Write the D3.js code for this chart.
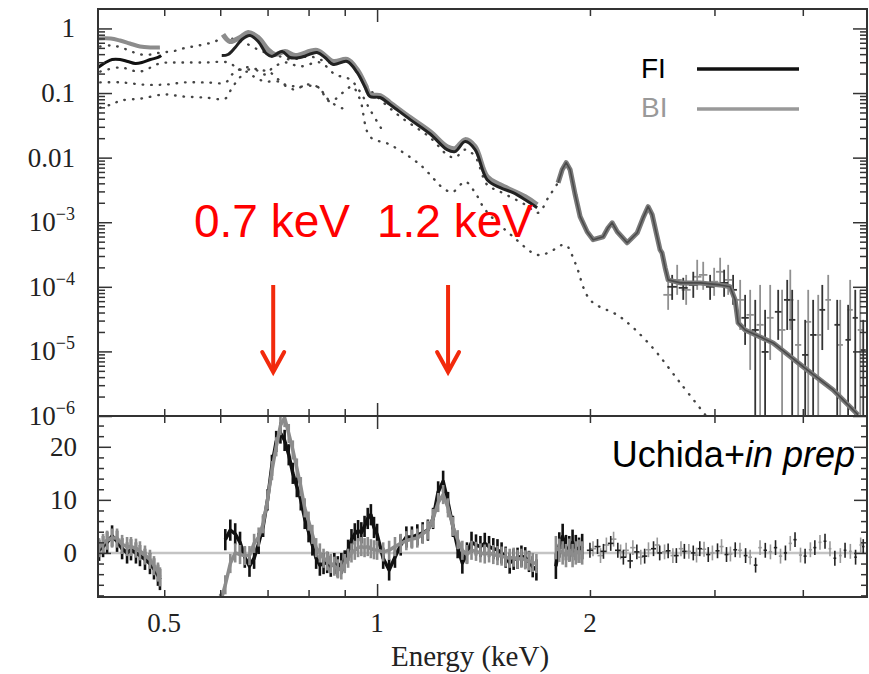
<!DOCTYPE html>
<html>
<head>
<meta charset="utf-8">
<script src="https://cdn.jsdelivr.net/npm/d3@7"></script>
<style>
  body { margin: 0; background: #fff; }
</style>
</head>
<body>
<svg id="chart" width="869" height="674"></svg>
<script>
// ---- spectrum (upper panel), [energy keV, counts] ----
var fiLow = [[0.403,0.249],[0.413,0.297],[0.422,0.331],[0.433,0.331],[0.444,0.308],[0.455,0.287],[0.465,0.297],[0.478,0.331],[0.490,0.355],[0.495,0.381]];
var biLow = [[0.403,0.70],[0.42,0.70],[0.433,0.65],[0.447,0.585],[0.462,0.526],[0.478,0.508],[0.493,0.508]];

var fiMain = [[0.603,0.381],[0.6155,0.395],[0.63,0.508],[0.644,0.675],[0.661,0.778],[0.679,0.629],[0.697,0.41],[0.71,0.368],
  [0.734,0.44],[0.753,0.355],[0.778,0.355],[0.8225,0.425],[0.844,0.355],[0.867,0.277],[0.907,0.308],[0.937,0.208],[0.962,0.122],
  [0.977,0.0883],[1.01,0.0852],[1.043,0.0664],[1.114,0.0388],[1.189,0.0232],[1.256,0.0133],[1.289,0.0124],[1.332,0.0177],
  [1.376,0.0133],[1.431,0.00456],[1.493,0.00343],[1.557,0.00287],[1.62,0.00223],[1.684,0.00168]];
var biMain = [[0.6055,0.807],[0.619,0.629],[0.64,0.725],[0.657,0.867],[0.679,0.725],[0.701,0.472],[0.717,0.395],[0.741,0.44],
  [0.766,0.381],[0.8225,0.456],[0.867,0.308],[0.907,0.331],[0.937,0.231],[0.962,0.135],[0.977,0.0948],[1.01,0.0915],[1.043,0.071],
  [1.114,0.0417],[1.189,0.0252],[1.256,0.0148],[1.289,0.0138],[1.332,0.019],[1.376,0.0148],[1.431,0.0051],[1.493,0.00381],
  [1.62,0.00249],[1.684,0.00187]];

var modelHigh = [[1.803,0.0041],[1.827,0.00651],[1.851,0.00836],[1.875,0.0065],[1.906,0.00267],[1.937,0.00122],[1.982,0.000713],
  [2.021,0.000536],[2.088,0.000596],[2.122,0.000822],[2.15,0.00098],[2.186,0.000713],[2.258,0.000481],[2.333,0.000687],
  [2.378,0.00117],[2.417,0.00174],[2.449,0.00131],[2.489,0.000596],[2.513,0.000375],[2.529,0.000336],[2.555,0.000197],
  [2.58,0.000128],[2.684,0.000115],[2.864,0.000115],[3.056,0.000107],[3.157,0.0001],[3.209,6.28e-5],[3.24,2.77e-5],
  [3.315,2.15e-5],[3.632,1.35e-5],[4.058,5.17e-6],[4.416,2.53e-6],[4.79,1.04e-6]];

// model components (dotted)
var compA = [[0.406,0.526],[0.4205,0.545],[0.4345,0.508],[0.449,0.44],[0.4637,0.395],[0.479,0.395],[0.495,0.425],[0.513,0.44],
  [0.5316,0.49],[0.5495,0.526],[0.569,0.565],[0.59,0.629],[0.6055,0.725],[0.6296,0.675],[0.657,0.565],[0.688,0.44],[0.7172,0.395],
  [0.753,0.331],[0.804,0.368],[0.858,0.297],[0.901,0.331],[0.937,0.231],[0.971,0.122],[1.01,0.0793],[1.078,0.0432],[1.189,0.0204],
  [1.256,0.0111],[1.289,0.01],[1.332,0.0133],[1.376,0.0104],[1.431,0.00381],[1.493,0.00297],[1.62,0.00187],[1.69,0.0014],
  [1.746,0.0024],[1.803,0.0041]];
var compB = [[0.406,0.146],[0.4345,0.146],[0.467,0.135],[0.5015,0.135],[0.535,0.146],[0.573,0.146],[0.611,0.146],[0.6236,0.194],
  [0.6506,0.249],[0.679,0.231],[0.706,0.208],[0.741,0.135],[0.778,0.126],[0.8225,0.126],[0.858,0.0739],[0.895,0.102],[0.922,0.126],
  [0.946,0.0793],[0.977,0.0212],[1.043,0.0159],[1.15,0.00778],[1.248,0.00319],[1.281,0.00297],[1.332,0.00425],[1.376,0.00287],
  [1.422,0.00156],[1.557,0.000596],[1.684,0.000313],[1.746,0.000336],[1.845,0.000448],[1.906,0.000235],[2.001,6.28e-5],
  [2.207,3.43e-5],[2.433,1.26e-5],[2.684,3.25e-6],[2.92,1e-6]];
var compC = [[0.406,0.215],[0.433,0.249],[0.462,0.215],[0.493,0.287],[0.527,0.297],[0.571,0.297],[0.6155,0.297],[0.64,0.231],
  [0.672,0.231],[0.6945,0.194],[0.7128,0.249],[0.741,0.297],[0.778,0.258],[0.831,0.297],[0.8723,0.194],[0.916,0.162],
  [0.946,0.105],[0.977,0.0555],[1.026,0.0227]];
var compD = [[0.406,0.0596],[0.4205,0.0664],[0.4345,0.0765],[0.4637,0.0822],[0.5,0.0948],[0.5316,0.0883],[0.571,0.0852],
  [0.61,0.0822],[0.6216,0.113],[0.636,0.162],[0.655,0.215],[0.672,0.174],[0.6945,0.151],[0.7244,0.151],[0.7485,0.122],
  [0.768,0.113],[0.791,0.135],[0.8225,0.126],[0.8388,0.102],[0.858,0.0739],[0.901,0.0555]];

// binned data points at high energy: [energy, value, low, high]
var fiPoints = [[2.614,1.0e-4,6.28e-5,1.53e-4],[2.71,9.64e-5,6.28e-5,1.38e-4],[2.80,1.07e-4,6.75e-5,1.71e-4],
  [2.958,1.0e-4,6.28e-5,1.53e-4],[3.096,1.15e-4,7.0e-5,1.84e-4],[3.188,8.98e-5,5.26e-5,1.53e-4],[3.315,3.31e-5,1.26e-5,7.51e-5],
  [3.426,2.15e-5,1e-7,6.28e-5],[3.538,9.82e-6,1e-7,4.40e-5],[3.692,4.10e-5,1.51e-5,8.98e-5],[3.802,6.28e-5,2.15e-5,1.28e-4],
  [3.864,3.08e-5,1e-7,8.98e-5],[4.031,8.83e-6,1e-7,3.08e-5],[4.137,1.80e-5,1e-7,6.28e-5],[4.262,4.40e-5,1.05e-5,1.07e-4],
  [4.474,2.58e-5,1e-7,6.28e-5],[4.636,1.51e-5,1e-7,5.26e-5],[4.745,3.31e-5,1e-7,8.98e-5],[4.87,1.05e-5,1e-7,3.08e-5]];
var biPoints = [[2.58,7.51e-5,4.40e-5,1.28e-4],[2.657,1.28e-4,7.51e-5,2.19e-4],[2.736,8.98e-5,5.26e-5,1.53e-4],
  [2.836,1.43e-4,8.98e-5,2.62e-4],[2.892,1.53e-4,8.98e-5,2.44e-4],[2.997,1.20e-4,7.25e-5,1.97e-4],[3.056,1.71e-4,1.07e-4,2.82e-4],
  [3.137,1.28e-4,7.51e-5,2.19e-4],[3.262,6.28e-5,2.15e-5,1.28e-4],[3.37,3.68e-5,5.17e-6,8.98e-5],[3.481,2.58e-5,1e-7,1.07e-4],
  [3.597,3.31e-5,7.38e-6,1.07e-4],[3.739,2.15e-5,1e-7,8.98e-5],[3.84,6.28e-5,2.15e-5,1.84e-4],[3.94,1.26e-5,1e-7,6.28e-5],
  [4.071,2.87e-5,1e-7,8.98e-5],[4.206,1.80e-5,1e-7,7.51e-5],[4.345,6.28e-5,2.15e-5,1.53e-4],[4.518,1.26e-5,1e-7,6.28e-5],
  [4.667,4.40e-5,1.51e-5,1.28e-4],[4.823,2.15e-5,1e-7,8.98e-5]];
var binHalf = 0.04;

// ---- residuals (lower panel), [energy, residual] ----
var resFi1 = [[0.4044,0.5],[0.4097,1.2],[0.4151,2.0],[0.4219,3.2],[0.4288,2.2],[0.4359,0.8],[0.443,0.0],[0.4487,0.6],[0.456,0.0],
  [0.462,-0.5],[0.4696,-1.2],[0.4773,-2.0],[0.4836,-3.0],[0.4899,-4.2],[0.4931,-5.0]];
var resBi1 = [[0.4044,1.0],[0.4097,1.8],[0.4151,2.4],[0.4219,2.8],[0.4288,2.8],[0.4359,1.6],[0.443,1.2],[0.4487,1.2],[0.456,0.9],
  [0.462,0.4],[0.4696,-0.4],[0.4773,-1.2],[0.4836,-2.4],[0.4899,-3.6],[0.4931,-4.5]];
var resFi2 = [[0.61,2.5],[0.62,4.3],[0.63,3.6],[0.64,2.0],[0.65,-0.8],[0.66,-2.5],[0.67,-1.0],[0.68,1.8],[0.69,5.0],[0.70,10.0],
  [0.71,16.5],[0.72,21.0],[0.73,22.6],[0.74,21.2],[0.75,18.5],[0.76,15.0],[0.77,12.5],[0.78,10.0],[0.79,6.5],[0.80,4.0],
  [0.81,1.5],[0.82,-1.0],[0.83,-2.3],[0.84,-2.0],[0.85,-1.8],[0.86,-2.5],[0.87,-2.0],[0.88,-2.6],[0.89,-2.0],[0.90,-1.5],
  [0.91,0.5],[0.92,2.5],[0.93,3.6],[0.94,4.2],[0.95,3.8],[0.96,5.0],[0.97,6.5],[0.98,7.2],[0.99,4.8],[1.00,3.5],
  [1.02,-1.0],[1.04,-3.2],[1.06,-0.8],[1.08,1.5],[1.10,3.0],[1.12,3.0],[1.14,3.4],[1.16,3.8],[1.18,4.3],[1.20,6.5],
  [1.22,11.5],[1.24,13.5],[1.26,9.5],[1.28,5.0],[1.30,1.0],[1.32,-1.9],[1.34,0.0],[1.36,2.0],[1.38,1.5],[1.40,1.2],
  [1.42,1.8],[1.44,1.2],[1.46,0.8],[1.48,0.6],[1.50,0.0],[1.52,-0.8],[1.54,-1.9],[1.56,-1.2],[1.58,-1.0],[1.60,-0.6],
  [1.62,-0.9],[1.64,-1.6],[1.66,-2.6],[1.68,-3.2]];
var resBi2 = [[0.60,-9.5],[0.61,-6.0],[0.62,-2.0],[0.63,0.0],[0.64,-0.3],[0.65,-0.5],[0.66,-0.5],[0.67,1.8],[0.68,3.0],[0.69,5.5],
  [0.70,10.0],[0.71,15.5],[0.72,20.0],[0.73,24.0],[0.74,25.5],[0.75,22.5],[0.76,19.4],[0.77,16.0],[0.78,12.5],[0.79,8.5],
  [0.80,6.0],[0.81,3.5],[0.82,1.0],[0.83,0.0],[0.84,-1.0],[0.85,-1.5],[0.86,-2.0],[0.87,-2.5],[0.88,-3.0],[0.89,-3.2],
  [0.90,-2.0],[0.91,-1.0],[0.92,0.0],[0.93,0.5],[0.94,1.0],[0.95,1.2],[0.96,1.0],[0.97,1.2],[0.98,0.8],[0.99,0.6],[1.00,0.5],
  [1.02,0.2],[1.04,0.5],[1.06,1.2],[1.08,1.8],[1.10,2.3],[1.12,2.6],[1.14,2.8],[1.16,3.6],[1.18,4.3],[1.20,6.5],
  [1.22,9.5],[1.24,11.0],[1.26,8.5],[1.28,5.0],[1.30,2.5],[1.32,0.5],[1.34,-0.3],[1.36,0.5],[1.38,0.3],[1.40,0.0],
  [1.42,-0.2],[1.44,0.0],[1.46,-0.3],[1.48,-0.5],[1.50,-0.6],[1.52,-0.8],[1.54,-1.0],[1.56,-0.8],[1.58,-1.2],[1.60,-1.0],
  [1.62,-1.3],[1.64,-1.5],[1.66,-1.8],[1.68,-2.0]];
var resFi3 = [[1.79,-2.5],[1.81,1.5],[1.83,3.1],[1.85,1.0],[1.87,0.8],[1.89,2.0],[1.91,1.0],[1.93,0.5],[1.95,1.2]];
var resBi3 = [[1.79,1.0],[1.81,0.5],[1.83,0.0],[1.85,-0.5],[1.87,0.5],[1.89,-0.5],[1.91,0.0],[1.93,0.3],[1.95,0.0]];
var resFiPts = [[2.0,0.5],[2.05,1.2],[2.09,0.3],[2.14,1.8],[2.19,0.5],[2.23,-0.8],[2.28,-1.5],[2.33,0.2],[2.39,-0.6],[2.46,0.8],
  [2.51,0.0],[2.58,0.4],[2.65,-0.5],[2.72,0.3],[2.80,0.0],[2.86,0.8],[2.94,-0.3],[3.03,0.4],[3.12,-0.3],[3.21,0.6],[3.32,-0.5],
  [3.43,-2.3],[3.54,0.5],[3.66,1.0],[3.78,0.0],[3.90,2.5],[4.03,-0.6],[4.16,1.0],[4.30,2.2],[4.44,-1.0],[4.59,0.5],[4.75,-0.8],[4.87,1.2]];
var resBiPts = [[2.02,0.8],[2.07,-0.5],[2.11,1.5],[2.16,2.6],[2.21,0.2],[2.25,0.5],[2.30,1.0],[2.36,-0.8],[2.42,0.6],[2.49,1.5],
  [2.55,0.2],[2.62,-0.5],[2.69,0.8],[2.76,0.3],[2.83,-0.4],[2.90,0.7],[2.98,0.0],[3.07,1.2],[3.16,-0.2],[3.26,0.5],[3.37,-0.8],
  [3.48,1.0],[3.60,0.2],[3.72,-0.6],[3.84,1.8],[3.97,-0.4],[4.10,0.6],[4.23,2.0],[4.37,0.8],[4.52,-0.5],[4.67,0.3],[4.83,1.5]];

// ---- ticks and labels ----
var topTicks = [1, 0.1, 0.01, 1e-3, 1e-4, 1e-5, 1e-6];
var topTickLabels = [["1",""],["0.1",""],["0.01",""],["10","\u22123"],["10","\u22124"],["10","\u22125"],["10","\u22126"]];
var resTicks = [0, 10, 20];
var resMinorTicks = [-8,-6,-4,-2,2,4,6,8,12,14,16,18,22,24];
var xMajorTicks = [1];
var xMinorTicks = [0.5,0.6,0.7,0.8,0.9,2,3,4];
var xLabels = [0.5, 1, 2];
var arrowEnergies = [0.713, 1.26];

var pLeft = 98, pRight = 867, pTop = 9, pMid = 416, pBottom = 597;
var FI = "#111", BI = "#8c8c8c", AX = "#333";
var serif = "'Liberation Serif', 'DejaVu Serif', serif";
var sans = "'Liberation Sans', Arial, sans-serif";

var svg = d3.select("#chart");
var x = d3.scaleLog().domain([0.403, 4.93]).range([pLeft, pRight]);
var yTop = d3.scaleLog().domain([1e-6, 2.0]).range([pMid, pTop]);
var yRes = d3.scaleLinear().domain([-8.3, 25.8]).range([pBottom, pMid]);

var defs = svg.append("defs");
defs.append("clipPath").attr("id", "clipTop").append("rect")
    .attr("x", pLeft).attr("y", pTop).attr("width", pRight - pLeft).attr("height", pMid - pTop);
defs.append("clipPath").attr("id", "clipRes").append("rect")
    .attr("x", pLeft).attr("y", pMid).attr("width", pRight - pLeft).attr("height", pBottom - pMid);

var gTop = svg.append("g").attr("clip-path", "url(#clipTop)");
var gRes = svg.append("g").attr("clip-path", "url(#clipRes)");

var smooth = d3.line().x(function(d) { return x(d[0]); }).y(function(d) { return yTop(d[1]); })
    .curve(d3.curveCatmullRom.alpha(0.5));
var straight = d3.line().x(function(d) { return x(d[0]); }).y(function(d) { return yTop(d[1]); });
var resLine = d3.line().x(function(d) { return x(d[0]); }).y(function(d) { return yRes(d[1]); });

// dotted model components
[compA, compB, compC, compD].forEach(function(c) {
    gTop.append("path")
        .attr("d", smooth(c))
        .style("fill", "none")
        .style("stroke", "#444")
        .style("stroke-width", "2.4px")
        .style("stroke-linecap", "round")
        .style("stroke-dasharray", "0.5,8");
});

function solid(g, d, gen, color, w) {
    g.append("path")
        .attr("d", gen(d))
        .style("fill", "none")
        .style("stroke", color)
        .style("stroke-width", w + "px")
        .style("stroke-linejoin", "round");
}

// data points with error bars (upper)
function crosses(pts, color) {
    pts.forEach(function(p) {
        gTop.append("line")
            .attr("x1", x(p[0])).attr("x2", x(p[0]))
            .attr("y1", yTop(p[2])).attr("y2", yTop(p[3]))
            .style("stroke", color).style("stroke-width", "1.8px");
        gTop.append("line")
            .attr("x1", x(p[0] - binHalf)).attr("x2", x(p[0] + binHalf))
            .attr("y1", yTop(p[1])).attr("y2", yTop(p[1]))
            .style("stroke", color).style("stroke-width", "1.8px");
    });
}
crosses(biPoints, "#909090");
crosses(fiPoints, "#333");

solid(gTop, biLow, smooth, BI, 4);
solid(gTop, biMain, smooth, BI, 5);
solid(gTop, fiLow, smooth, FI, 3);
solid(gTop, fiMain, smooth, "#222", 3);
solid(gTop, modelHigh, straight, "#7a7a7a", 5);
solid(gTop, modelHigh, straight, "#4a4a4a", 1.6);

// residuals
gRes.append("line")
    .attr("x1", pLeft).attr("x2", pRight)
    .attr("y1", yRes(0)).attr("y2", yRes(0))
    .style("stroke", "#c4c4c4").style("stroke-width", "2.5px");

function band(data, color, err) {
    solid(gRes, data, resLine, color, 3.5);
    data.forEach(function(d) {
        gRes.append("line")
            .attr("x1", x(d[0])).attr("x2", x(d[0]))
            .attr("y1", yRes(d[1] - err)).attr("y2", yRes(d[1] + err))
            .style("stroke", color).style("stroke-width", "2.6px");
    });
}
function resCrosses(data, color, err) {
    data.forEach(function(d) {
        gRes.append("line")
            .attr("x1", x(d[0])).attr("x2", x(d[0]))
            .attr("y1", yRes(d[1] - err)).attr("y2", yRes(d[1] + err))
            .style("stroke", color).style("stroke-width", "1.6px");
        gRes.append("line")
            .attr("x1", x(d[0] - binHalf / 2)).attr("x2", x(d[0] + binHalf / 2))
            .attr("y1", yRes(d[1])).attr("y2", yRes(d[1]))
            .style("stroke", color).style("stroke-width", "1.6px");
    });
}
band(resFi1, FI, 2.0);
band(resFi2, FI, 2.0);
band(resFi3, FI, 2.4);
band(resBi1, BI, 1.8);
band(resBi2, BI, 1.8);
band(resBi3, BI, 2.2);
resCrosses(resBiPts, "#999", 1.4);
resCrosses(resFiPts, "#222", 1.4);

// ---- axes ----
function tickGroup(tx, ty, axis) {
    var g = svg.append("g").attr("transform", "translate(" + tx + "," + ty + ")").call(axis);
    g.select(".domain").remove();
    g.selectAll("line").style("stroke", AX).style("stroke-width", "1.5px");
    g.selectAll("text").remove();
}
var decadeMinor = [];
[1e-6, 1e-5, 1e-4, 1e-3, 1e-2, 1e-1, 1].forEach(function(d) {
    for (var k = 2; k <= 9; k++) { if (d * k < 1.95) decadeMinor.push(d * k); }
});

tickGroup(pLeft, 0, d3.axisLeft(yTop).tickValues(topTicks).tickSize(-14));
tickGroup(pLeft, 0, d3.axisLeft(yTop).tickValues(decadeMinor).tickSize(-7));
tickGroup(pRight, 0, d3.axisRight(yTop).tickValues(topTicks).tickSize(-14));
tickGroup(pRight, 0, d3.axisRight(yTop).tickValues(decadeMinor).tickSize(-7));
tickGroup(pLeft, 0, d3.axisLeft(yRes).tickValues(resTicks).tickSize(-13));
tickGroup(pLeft, 0, d3.axisLeft(yRes).tickValues(resMinorTicks).tickSize(-6));
tickGroup(pRight, 0, d3.axisRight(yRes).tickValues(resTicks).tickSize(-13));
tickGroup(pRight, 0, d3.axisRight(yRes).tickValues(resMinorTicks).tickSize(-6));

tickGroup(0, pTop, d3.axisTop(x).tickValues(xMajorTicks).tickSize(-13));
tickGroup(0, pTop, d3.axisTop(x).tickValues(xMinorTicks).tickSize(-7));
tickGroup(0, pMid, d3.axisTop(x).tickValues(xMajorTicks).tickSize(13));
tickGroup(0, pMid, d3.axisTop(x).tickValues(xMinorTicks).tickSize(7));
tickGroup(0, pMid, d3.axisBottom(x).tickValues(xMajorTicks).tickSize(13));
tickGroup(0, pMid, d3.axisBottom(x).tickValues(xMinorTicks).tickSize(7));
tickGroup(0, pBottom, d3.axisBottom(x).tickValues(xMajorTicks).tickSize(-13));
tickGroup(0, pBottom, d3.axisBottom(x).tickValues(xMinorTicks).tickSize(-7));

// frame
svg.append("rect")
    .attr("x", pLeft).attr("y", pTop).attr("width", pRight - pLeft).attr("height", pBottom - pTop)
    .style("fill", "none").style("stroke", AX).style("stroke-width", "2px");
svg.append("line")
    .attr("x1", pLeft).attr("x2", pRight).attr("y1", pMid).attr("y2", pMid)
    .style("stroke", AX).style("stroke-width", "2px");

// tick labels
topTicks.forEach(function(v, i) {
    var t = svg.append("text")
        .attr("x", 75).attr("y", yTop(v) + 9)
        .attr("text-anchor", "end")
        .style("font-family", serif).style("font-size", "27px").style("fill", "#222");
    t.append("tspan").text(topTickLabels[i][0]);
    if (topTickLabels[i][1]) {
        t.append("tspan").attr("dy", -11).style("font-size", "18px").text(topTickLabels[i][1]);
    }
});
resTicks.forEach(function(v) {
    svg.append("text")
        .attr("x", 77).attr("y", yRes(v) + 9)
        .attr("text-anchor", "end")
        .style("font-family", serif).style("font-size", "27px").style("fill", "#222")
        .text(v);
});
xLabels.forEach(function(v) {
    svg.append("text")
        .attr("x", x(v)).attr("y", 632)
        .attr("text-anchor", "middle")
        .style("font-family", serif).style("font-size", "27px").style("fill", "#222")
        .text(v);
});
svg.append("text")
    .attr("x", 470).attr("y", 666)
    .attr("text-anchor", "middle")
    .style("font-family", serif).style("font-size", "29px").style("fill", "#222")
    .text("Energy (keV)");

// legend
svg.append("text").attr("x", 641).attr("y", 78)
    .style("font-family", sans).style("font-size", "28px").style("fill", "#000").text("FI");
svg.append("line").attr("x1", 697).attr("x2", 799).attr("y1", 69).attr("y2", 69)
    .style("stroke", FI).style("stroke-width", "3.5px");
svg.append("text").attr("x", 641).attr("y", 117)
    .style("font-family", sans).style("font-size", "28px").style("fill", "#999").text("BI");
svg.append("line").attr("x1", 697).attr("x2", 799).attr("y1", 109).attr("y2", 109)
    .style("stroke", "#999").style("stroke-width", "3.5px");

// annotations
svg.append("text").attr("x", 194).attr("y", 237)
    .style("font-family", sans).style("font-size", "46px").style("fill", "#ff0000").text("0.7 keV");
svg.append("text").attr("x", 377).attr("y", 237)
    .style("font-family", sans).style("font-size", "46px").style("fill", "#ff0000").text("1.2 keV");
arrowEnergies.forEach(function(e) {
    var ax = x(e);
    svg.append("line").attr("x1", ax).attr("x2", ax).attr("y1", 285).attr("y2", 370)
        .style("stroke", "#f22a0c").style("stroke-width", "4px");
    svg.append("path")
        .attr("d", "M" + (ax - 11) + ",352L" + ax + ",372L" + (ax + 11) + ",352")
        .style("fill", "none").style("stroke", "#f22a0c").style("stroke-width", "4px")
        .style("stroke-linecap", "round");
});

var credit = svg.append("text").attr("x", 855).attr("y", 467)
    .attr("text-anchor", "end")
    .style("font-family", sans).style("font-size", "36px").style("fill", "#000");
credit.append("tspan").text("Uchida+");
credit.append("tspan").style("font-style", "italic").text("in prep");
</script>
</body>
</html>
